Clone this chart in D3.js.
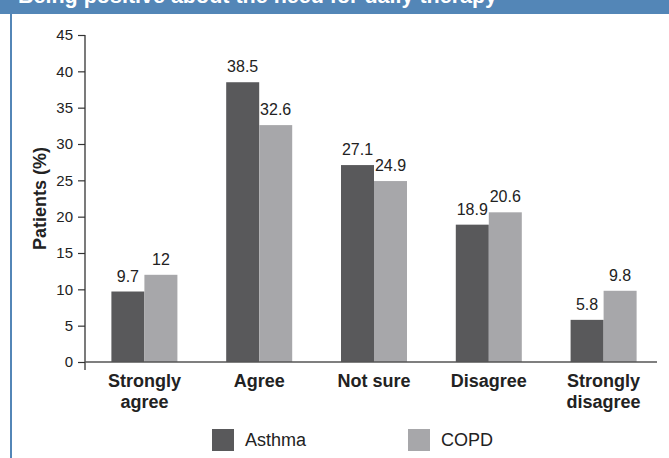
<!DOCTYPE html>
<html>
<head>
<meta charset="utf-8">
<script src="https://cdn.jsdelivr.net/npm/d3@7"></script>
<style>
  html, body { margin: 0; padding: 0; background: #fff; }
  svg { display: block; font-family: "Liberation Sans", Arial, Helvetica, sans-serif; }
</style>
</head>
<body>
<svg id="chart" width="669" height="458"></svg>
<script>
// Responses by category, % of patients
const categories = [["Strongly", "agree"], ["Agree"], ["Not sure"], ["Disagree"], ["Strongly", "disagree"]];
const seriesNames = ["Asthma", "COPD"];
const asthmaValues = [9.7, 38.5, 27.1, 18.9, 5.8];
const copdValues = [12, 32.6, 24.9, 20.6, 9.8];
const yTicks = [0, 5, 10, 15, 20, 25, 30, 35, 40, 45];
const seriesColors = ["#59595b", "#a7a7aa"];
const titleText = "Being positive about the need for daily therapy";

const svg = d3.select("#chart");
const W = 669, H = 458;

// Header band (title runs off the top edge) and left frame line
svg.append("rect").attr("x", 0).attr("y", 0).attr("width", W).attr("height", 14).attr("fill", "#5386b7");
svg.append("rect").attr("x", 10).attr("y", 14).attr("width", 2).attr("height", H - 14).attr("fill", "#5386b7");
svg.append("text").attr("x", 18).attr("y", 3)
  .attr("font-size", 21.5).attr("font-weight", "bold").attr("fill", "#fff")
  .text(titleText);

const y = d3.scaleLinear().domain([0, 45]).range([362, 35]);
const catKeys = categories.map(c => c.join(" "));
const x0 = d3.scaleBand().domain(catKeys).range([87, 661]).paddingInner(0.425).paddingOuter(0.2125);
const x1 = d3.scaleBand().domain(seriesNames).range([0, x0.bandwidth()]);

const rows = catKeys.map((k, i) => ({ key: k, values: [asthmaValues[i], copdValues[i]] }));

// Bars
const groups = svg.append("g").selectAll("g").data(rows).join("g")
  .attr("transform", d => `translate(${x0(d.key)},0)`);
groups.selectAll("rect").data(d => d.values.map((v, j) => ({ name: seriesNames[j], v, j })))
  .join("rect")
  .attr("x", d => x1(d.name))
  .attr("y", d => y(d.v))
  .attr("width", x1.bandwidth())
  .attr("height", d => y(0) - y(d.v))
  .attr("fill", d => seriesColors[d.j]);

// Value labels
groups.selectAll("text").data(d => d.values.map((v, j) => ({ name: seriesNames[j], v })))
  .join("text")
  .attr("x", d => x1(d.name) + x1.bandwidth() / 2)
  .attr("y", d => y(d.v) - 10)
  .attr("text-anchor", "middle")
  .attr("font-size", 16).attr("fill", "#222")
  .text(d => String(d.v));

// Y axis
const yAxis = svg.append("g").attr("transform", "translate(85,0)")
  .call(d3.axisLeft(y).tickValues(yTicks).tickSize(7).tickSizeOuter(0));
yAxis.select(".domain").remove();
yAxis.selectAll(".tick line").attr("stroke", "#333").attr("stroke-width", 1.2);
yAxis.selectAll(".tick text").attr("font-size", 15).attr("fill", "#222")
  .attr("x", -12).attr("font-family", "Liberation Sans, Arial, sans-serif");
svg.append("line").attr("x1", 85).attr("x2", 85).attr("y1", y(45)).attr("y2", 370)
  .attr("stroke", "#333").attr("stroke-width", 1.3);

// X axis baseline
svg.append("line").attr("x1", 85).attr("x2", 657).attr("y1", y(0)).attr("y2", y(0))
  .attr("stroke", "#555").attr("stroke-width", 1.6);

// Category labels
const catLabels = svg.append("g").selectAll("text").data(categories).join("text")
  .attr("text-anchor", "middle").attr("font-size", 18).attr("font-weight", "bold").attr("fill", "#222");
catLabels.each(function (lines, i) {
  const cx = x0(catKeys[i]) + x0.bandwidth() / 2;
  d3.select(this).selectAll("tspan").data(lines).join("tspan")
    .attr("x", cx).attr("y", (d, k) => 387 + k * 21).text(d => d);
});

// Y axis title
svg.append("text")
  .attr("transform", `translate(46,${(y(0) + y(45)) / 2}) rotate(-90)`)
  .attr("text-anchor", "middle").attr("font-size", 18).attr("font-weight", "bold").attr("fill", "#222")
  .text("Patients (%)");

// Legend
const legendX = [212, 408];
const legend = svg.append("g").selectAll("g").data(seriesNames).join("g")
  .attr("transform", (d, i) => `translate(${legendX[i]},429)`);
legend.append("rect").attr("width", 22).attr("height", 22).attr("fill", (d, i) => seriesColors[i]);
legend.append("text").attr("x", 33).attr("y", 17).attr("font-size", 18).attr("fill", "#222").text(d => d);
</script>
</body>
</html>
